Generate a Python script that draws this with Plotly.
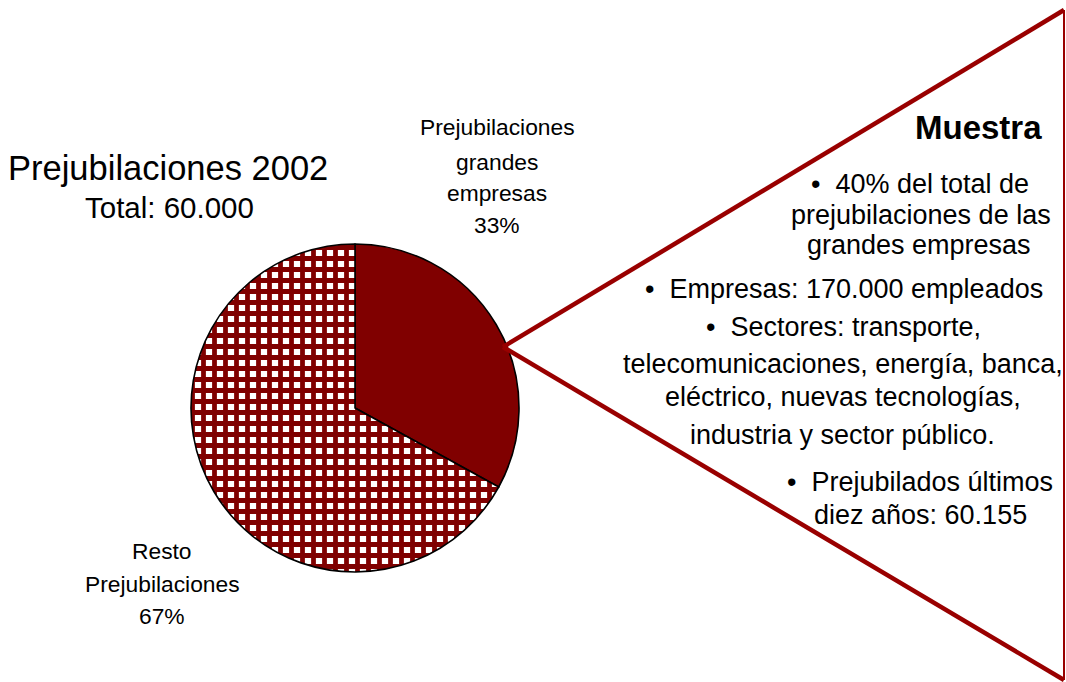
import plotly.graph_objects as go

# Early retirements 2002: share of large companies vs. the rest
slice_labels = ["Prejubilaciones<br>grandes<br>empresas", "Resto<br>Prejubilaciones"]
slice_values = [33, 67]

title_line = "Prejubilaciones 2002"
total_line = "Total: 60.000"

panel_title = "Muestra"
panel_lines = [
    "•  40% del total de",
    "prejubilaciones de las",
    "grandes empresas",
    "•  Empresas: 170.000 empleados",
    "•  Sectores: transporte,",
    "telecomunicaciones, energía, banca,",
    "eléctrico, nuevas tecnologías,",
    "industria y sector público.",
    "•  Prejubilados últimos",
    "diez años: 60.155",
]

W, H = 1066, 682
DARK = "#800000"
LINE = "#990000"
FONT = "Liberation Sans, Arial, sans-serif"


def px(x):
    return x / W


def py(y):
    return 1 - y / H


# pie geometry (pixels)
cx, cy, r = 355, 408, 164

fig = go.Figure()
fig.add_trace(go.Pie(
    labels=["Prejubilaciones grandes empresas", "Resto Prejubilaciones"],
    values=slice_values,
    sort=False,
    direction="clockwise",
    rotation=0,
    textinfo="none",
    hoverinfo="label+percent",
    showlegend=False,
    domain=dict(x=[px(cx - r), px(cx + r)], y=[py(cy + r), py(cy - r)]),
    marker=dict(
        colors=[DARK, "white"],
        line=dict(color="black", width=1.6),
        pattern=dict(
            shape=["", "+"],
            fgcolor=DARK,
            bgcolor=["white", "white"],
            fgopacity=1,
            size=11,
            solidity=0.68,
        ),
    ),
))

ann = []


def text(x, y, s, size, bold=False):
    ann.append(dict(
        x=px(x), y=py(y), xref="paper", yref="paper",
        text=f"<b>{s}</b>" if bold else s,
        showarrow=False, xanchor="center", yanchor="middle",
        font=dict(family=FONT, size=size, color="black"),
    ))


# chart title
text(168, 168, title_line, 34.5)
text(169, 208, total_line, 29.5)

# slice labels, one line at a time
big_lines = slice_labels[0].split("<br>") + [f"{slice_values[0]}%"]
for s, y in zip(big_lines, [127, 162, 193, 225]):
    text(497, y, s, 22.8)
rest_lines = slice_labels[1].split("<br>") + [f"{slice_values[1]}%"]
for s, y in zip(rest_lines, [551, 584, 616]):
    text(162, y, s, 22.8)

# side panel
text(978, 127, panel_title, 33, bold=True)
panel_x = [920, 921, 919, 844, 843, 843, 843, 842, 920, 920]
panel_y = [184, 215, 245, 289, 327, 364, 397, 435, 482, 515]
for s, x, y in zip(panel_lines, panel_x, panel_y):
    text(x, y, s, 27)

# callout wedge from the slice edge to the panel
apex = (503, 347)
top = (1064, 10)
bottom = (1064, 680)
shapes = [
    dict(type="line", xref="paper", yref="paper",
         x0=px(apex[0]), y0=py(apex[1]), x1=px(top[0]), y1=py(top[1]),
         line=dict(color=LINE, width=4.5)),
    dict(type="line", xref="paper", yref="paper",
         x0=px(apex[0]), y0=py(apex[1]), x1=px(bottom[0]), y1=py(bottom[1]),
         line=dict(color=LINE, width=4.5)),
    dict(type="line", xref="paper", yref="paper",
         x0=px(top[0]), y0=py(top[1]), x1=px(bottom[0]), y1=py(bottom[1]),
         line=dict(color=LINE, width=2)),
]

fig.update_layout(
    width=W, height=H,
    margin=dict(l=0, r=0, t=0, b=0),
    paper_bgcolor="white",
    plot_bgcolor="white",
    annotations=ann,
    shapes=shapes,
)

fig.write_html("out.html")
